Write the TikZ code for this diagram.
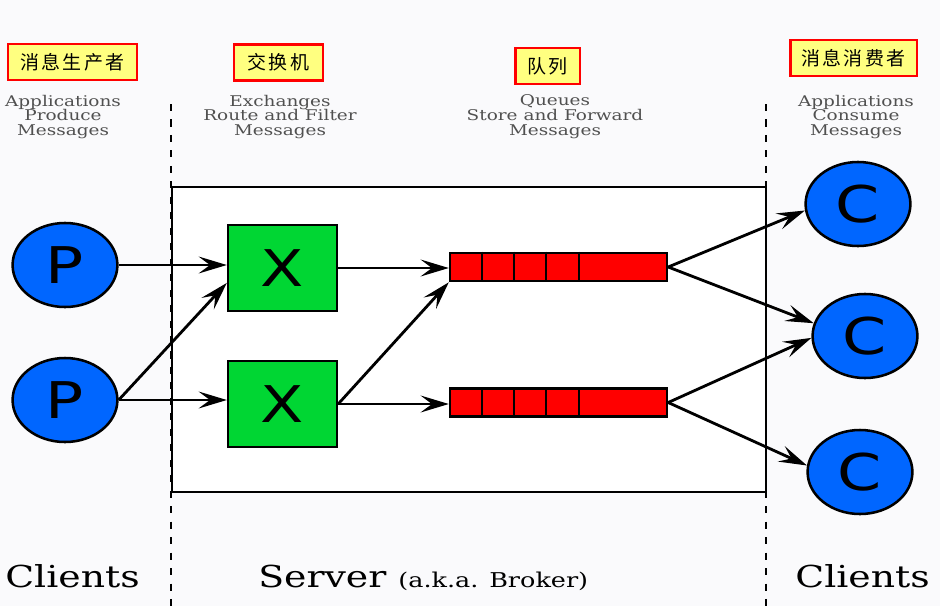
\documentclass[tikz,border=0pt]{standalone}
\usepackage{fontspec}
\setmainfont{DejaVu Serif}[FakeStretch=1.25]
\setsansfont{DejaVu Sans}[FakeStretch=1.25]
\newfontfamily\cjk{Noto Sans CJK SC}[LetterSpace=12]
\usetikzlibrary{arrows.meta,shapes.geometric}
\definecolor{bgwhite}{RGB}{250,250,252}
\definecolor{clientblue}{RGB}{0,102,255}
\definecolor{xgreen}{RGB}{0,214,51}
\definecolor{qred}{RGB}{255,0,0}
\definecolor{tagyellow}{RGB}{255,255,128}
\definecolor{greytext}{RGB}{80,80,80}
\begin{document}
\begin{tikzpicture}[x=0.025cm,y=-0.025cm,
	client/.style={draw,ellipse,line width=1.8pt,fill=clientblue,minimum width=2.62cm,minimum height=2.1cm,inner sep=0pt,font=\sffamily\fontsize{36}{36}\selectfont},
	exchange/.style={draw,line width=1.8pt,fill=xgreen,minimum width=2.72cm,minimum height=2.15cm,inner sep=0pt,font=\sffamily\fontsize{36}{36}\selectfont},
	queue/.style={draw,line width=1.8pt,fill=qred,minimum width=5.42cm,minimum height=0.7cm,inner sep=0pt},
	tag/.style={draw=red,line width=2pt,fill=tagyellow,minimum height=0.9cm,inner sep=0pt,font=\cjk\fontsize{13.5}{13.5}\selectfont},
	caption/.style={text=greytext,align=center,inner sep=0pt,font=\fontsize{10.5}{10.6}\selectfont},
	bigtext/.style={inner sep=0pt,font=\fontsize{21.5}{21.5}\selectfont},
	flow/.style={line width=2pt,-{Stealth[length=20pt,width=12pt,inset=8pt]}}]
	\fill[bgwhite] (0,0) rectangle (940,606);
	\useasboundingbox (0,0) rectangle (940,606);

	% Server box and borders
	\draw[line width=2pt,fill=white] (172,187) rectangle (766,492);
	\draw[line width=1.6pt,dash pattern=on 5pt off 6pt] (171,104) -- (171,606);
	\draw[line width=1.6pt,dash pattern=on 5pt off 6pt] (766,104) -- (766,606);

	% Labels on top
	\node[tag,minimum width=3.22cm] (tagprod) at (72.5,62) {消息生产者};
	\node[tag,minimum width=2.22cm] (tagex) at (278.5,62.5) {交换机};
	\node[tag,minimum width=1.62cm] (tagq) at (547.5,66) {队列};
	\node[tag,minimum width=3.17cm] (tagcons) at (853.5,58) {消息消费者};

	\node[caption] (capprod) at (63,117) {Applications\\Produce\\Messages};
	\node[caption] (capex) at (280,117) {Exchanges\\Route and Filter\\Messages};
	\node[caption] (capq) at (555,117) {Queues\\Store and Forward\\Messages};
	\node[caption] (capcons) at (856,117) {Applications\\Consume\\Messages};

	% Producers, exchanges, queues, consumers
	\node[client] (p1) at (65,265) {P};
	\node[client] (p2) at (65,400) {P};
	\node[exchange] (x1) at (282.5,268) {X};
	\node[exchange] (x2) at (282.5,404) {X};
	\node[queue] (q1) at (558.5,267) {};
	\node[queue] (q2) at (558.5,402.5) {};
	\node[client] (c1) at (858,204) {C};
	\node[client] (c2) at (865,336) {C};
	\node[client] (c3) at (860,472) {C};

	\foreach \q in {q1,q2}
		\foreach \d in {33,65,97,130}
			\draw[line width=1.8pt] ([xshift=\d*0.025cm]\q.north west) -- ([xshift=\d*0.025cm]\q.south west);

	% Message flow
	\draw[flow] (p1.east) -- (p1.east -| x1.west);
	\draw[flow] (p2.east) -- (x1.195);
	\draw[flow] (p2.east) -- (p2.east -| x2.west);
	\draw[flow] (x1.east) -- (x1.east -| q1.west);
	\draw[flow] (x2.east) -- (q1.south west);
	\draw[flow] (x2.east) -- (x2.east -| q2.west);
	\draw[flow] (q1.east) -- (c1.187);
	\draw[flow] (q1.east) -- (c2.166);
	\draw[flow] (q2.east) -- (c2.182);
	\draw[flow] (q2.east) -- (c3.173);

	% Bottom line
	\node[bigtext,anchor=base west] (clleft) at (5,587) {Clients};
	\node[bigtext,anchor=base west] (server) at (258,587) {Server {\fontsize{14.5}{14.5}\selectfont (a.k.a. Broker)}};
	\node[bigtext,anchor=base east] (clright) at (930,587) {Clients};
\end{tikzpicture}
\end{document}
